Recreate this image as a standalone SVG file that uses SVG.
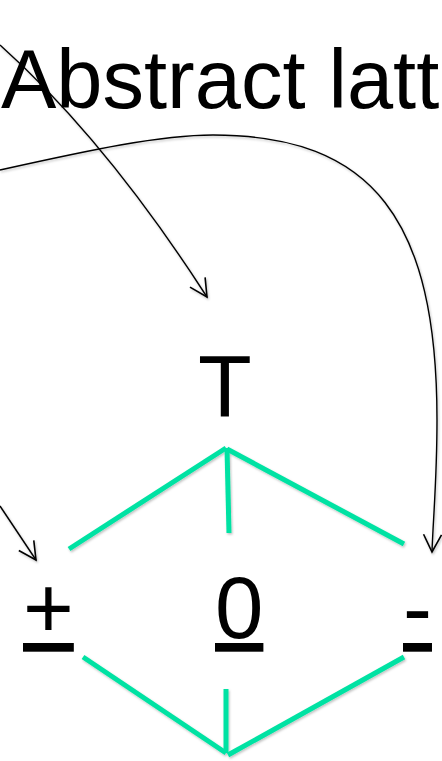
<svg xmlns="http://www.w3.org/2000/svg" width="442" height="761" viewBox="0 0 442 761">
  <style>
    .lbl { font-family: "Liberation Sans", Arial, sans-serif; fill: #000; }
    .edge { stroke: #05E2A3; stroke-width: 5; fill: none; stroke-linecap: butt; }
    .arrow { stroke: #000; fill: none; stroke-width: 1.4; }
  </style>
  <defs>
    <marker id="vhead" markerUnits="userSpaceOnUse" viewBox="-20 -11 22 22" refX="0" refY="0" markerWidth="22" markerHeight="22" orient="auto" overflow="visible">
      <path d="M-17.5,-9 L0,0 L-17.5,9" fill="none" stroke="#000" stroke-width="1.6"/>
    </marker>
    <filter id="sh" x="-10%" y="-10%" width="130%" height="130%">
      <feDropShadow dx="1" dy="1.5" stdDeviation="1" flood-color="#000" flood-opacity="0.25"/>
    </filter>
  </defs>
  <rect width="442" height="761" fill="#fff"/>

  <g id="title">
    <text class="lbl" x="1" y="108" font-size="83">Abstract latt</text>
  </g>

  <g id="connectors" filter="url(#sh)">
    <path class="arrow" stroke-width="1.8" d="M0,45 Q106,140 207,297" marker-end="url(#vhead)"/>
    <path class="arrow" d="M0,170 C90,150 160,135 213,135 C373,135 437,220 437,420 C437,480 433,520 432,552" marker-end="url(#vhead)"/>
    <path class="arrow" stroke-width="1.6" d="M0,506 L36,560" marker-end="url(#vhead)"/>
    <line class="edge" x1="69" y1="549" x2="226" y2="448"/>
    <line class="edge" x1="227" y1="448" x2="229" y2="533"/>
    <line class="edge" x1="227" y1="449" x2="404" y2="544"/>
    <line class="edge" x1="83" y1="657" x2="226" y2="753"/>
    <line class="edge" x1="226" y1="689" x2="226" y2="753"/>
    <line class="edge" x1="228" y1="755" x2="404" y2="657"/>
  </g>

  <g id="node-top">
    <text class="lbl" x="225" y="416" font-size="88" text-anchor="middle">T</text>
  </g>
  <g id="node-plus">
    <text class="lbl" x="23" y="638" font-size="87" text-decoration="underline">+</text>
  </g>
  <g id="node-zero">
    <text class="lbl" x="215" y="638" font-size="87" text-decoration="underline">0</text>
  </g>
  <g id="node-minus">
    <text class="lbl" x="403" y="638" font-size="87" text-decoration="underline">-</text>
  </g>
</svg>
